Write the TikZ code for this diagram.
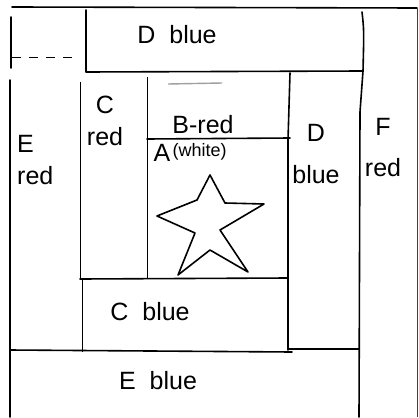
\documentclass[tikz,border=0pt]{standalone}
\usepackage{fontspec}
\setmainfont{Liberation Sans}
\usetikzlibrary{positioning}
\definecolor{ink}{RGB}{0,0,0}
\definecolor{faint}{RGB}{160,160,160}
\tikzset{
 seam/.style={draw=ink, line width=1.6pt, line cap=round, line join=round},
 thinseam/.style={draw=ink, line width=.9pt},
 lbl/.style={font={\fontsize{25}{32}\selectfont\spaceskip=14pt}, inner sep=0pt, align=center},
 tiny/.style={font=\fontsize{18}{20}\selectfont, inner sep=0pt}
}

\begin{document}
\begin{tikzpicture}[x=1pt, y=-1pt]
\useasboundingbox (0,0) rectangle (419,417);

% outer edge
\draw[seam] (12,7) -- (417,8);
\draw[thinseam, draw=ink!75] (417,8) -- (417,417);
\draw[seam] (11,17) -- (11,68);
\draw[thinseam, dashed, dash pattern=on 9pt off 8pt] (12,57) -- (76,57);
\draw[seam] (10,80) -- (10,417);

% D blue (top)
\draw[seam] (86,10) -- (86,72) -- (363,71);
\draw[seam] (362,12) .. controls (364,30) .. (363,71);
% F red
\draw[seam] (363,71) -- (360,112) -- (359,417);

% C red and A / B-red
\draw[thinseam] (80,82) -- (80,279);
\draw[thinseam] (147,77) -- (147,279);
\draw[seam] (147,139) -- (290,138);
\draw[line width=1.4pt, draw=faint] (168,84) -- (222,83);
% D blue (column)
\draw[seam] (290,73) -- (288,140) -- (288,350);

% C blue
\draw[seam] (80,279) -- (288,278);
\draw[thinseam] (82,279) -- (82,352);
% E blue
\draw[seam] (10,350) -- (292,352);
\draw[seam] (288,349) -- (359,349);

% star
\draw[seam] (210,175) -- (225,203) -- (264,204) -- (220,230) -- (248,272)
  -- (210,250) -- (178,275) -- (195,233) -- (157,216) -- (197,200) -- cycle;

% labels
\node[lbl] (dtop) at (177,35) {D blue};
\node[lbl] (cred) at (105,121) {C\\red};
\node[lbl, align=left, anchor=west] (ered) at (17,160) {E\\red};
\node[lbl] (bred) at (203,125) {B-red};
\node[lbl] (alab) at (162,153) {A};
\node[tiny, right=2pt of alab, yshift=1pt] (white) {(white)};
\node[lbl] (dcol) at (316,154) {D\\[10pt]blue};
\node[lbl] (fred) at (383,148) {F\\[9pt]red};
\node[lbl] (cblue) at (150,312) {C blue};
\node[lbl] (eblue) at (158,381) {E blue};

\end{tikzpicture}
\end{document}
